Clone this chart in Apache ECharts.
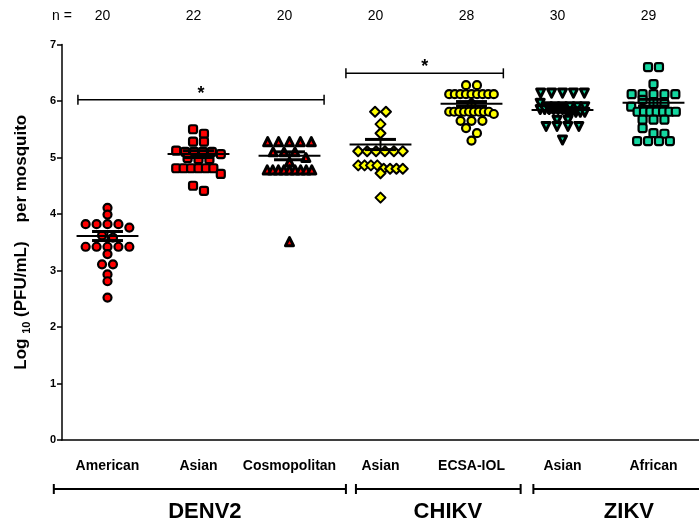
<!DOCTYPE html>
<html><head><meta charset="utf-8">
<script src="https://cdn.jsdelivr.net/npm/echarts@6/dist/echarts.min.js"></script>
<style>html,body{margin:0;padding:0;background:#fff}#c{width:699px;height:525px}</style>
</head><body><div id="c"></div>
<script>
const categories = ['American','Asian','Cosmopolitan','Asian','ECSA-IOL','Asian','African'];
const nLabels = ['20','22','20','20','28','30','29'];
const virusGroups = ['DENV2','CHIKV','ZIKV'];
const yTicks = [0,1,2,3,4,5,6,7];

const denvAmerican = [4.11,3.99,3.82,3.82,3.82,3.82,3.76,3.62,3.58,3.42,3.42,3.42,3.42,3.42,3.29,3.11,3.11,2.93,2.81,2.52];
const denvAsian = [5.50,5.42,5.28,5.28,5.12,5.10,5.10,5.10,5.10,5.06,4.99,4.97,4.97,4.81,4.81,4.81,4.81,4.81,4.81,4.71,4.50,4.41];
const denvCosmo = [5.28,5.28,5.28,5.28,5.28,5.10,5.10,5.10,5.00,4.92,4.78,4.78,4.78,4.78,4.78,4.78,4.78,4.78,4.78,3.51];
const chikvAsian = [5.81,5.81,5.59,5.43,5.11,5.11,5.11,5.11,5.11,5.11,4.86,4.86,4.86,4.86,4.80,4.80,4.80,4.80,4.72,4.29];
const chikvEcsa = [6.28,6.28,6.12,6.12,6.12,6.12,6.12,6.12,6.12,6.12,6.12,5.95,5.81,5.81,5.81,5.81,5.81,5.81,5.81,5.81,5.81,5.77,5.65,5.65,5.65,5.52,5.43,5.30];
const zikvAsian = [6.14,6.14,6.14,6.14,6.14,5.96,5.90,5.90,5.90,5.90,5.90,5.90,5.85,5.85,5.85,5.85,5.85,5.85,5.80,5.80,5.80,5.80,5.80,5.66,5.66,5.55,5.55,5.55,5.55,5.31];
const zikvAfrican = [6.60,6.60,6.30,6.12,6.12,6.12,6.12,6.12,6.02,5.97,5.95,5.90,5.81,5.81,5.81,5.81,5.81,5.81,5.81,5.67,5.67,5.67,5.52,5.43,5.42,5.29,5.29,5.29,5.29];

const means = [3.61,5.06,5.03,5.23,5.95,5.84,5.97];
const sems  = [0.08,0.06,0.07,0.09,0.04,0.04,0.06];

const sigLabels = ['*','*'];

// layout (axis units)
const sigSpans = [[-0.325,2.38,6.02],[2.62,4.35,6.49]];
const groupSpans = [[-0.59,2.62,1.07],[2.73,4.54,3.74],[4.68,6.6,5.73]];

const RED='#ff0000', YEL='#ffff00', TEAL='#14d7a0';

function swarm(vals, idx){
  const spacing=0.12, maxW=0.49, binH=0.1;
  const sorted=vals.slice().sort((a,b)=>b-a);
  const rows=[]; let cur=[];
  for(const v of sorted){ if(cur.length && cur[0]-v>binH){rows.push(cur);cur=[];} cur.push(v);}
  if(cur.length) rows.push(cur);
  const out=[];
  rows.forEach(r=>{const k=r.length; const sp=k>1?Math.min(spacing,maxW/(k-1)):0;
    r.forEach((v,j)=>out.push([idx+(j-(k-1)/2)*sp, v]));});
  return out;
}

const groups = [
  {vals:denvAmerican, symbol:'circle', size:8, color:RED, bw:2.2},
  {vals:denvAsian, symbol:'roundRect', size:8, color:RED, bw:2.2},
  {vals:denvCosmo, symbol:'triangle', size:8, color:RED, bw:3},
  {vals:chikvAsian, symbol:'diamond', size:10, color:YEL, bw:2},
  {vals:chikvEcsa, symbol:'circle', size:8, color:YEL, bw:2.2},
  {vals:zikvAsian, symbol:'triangle', size:8, color:TEAL, bw:3, rot:180},
  {vals:zikvAfrican, symbol:'roundRect', size:8, color:TEAL, bw:2.2}
];

const FONT='Liberation Sans, Arial, sans-serif';

const series = groups.map((g,i)=>({
  type:'scatter', xAxisIndex:1, yAxisIndex:0,
  data: swarm(g.vals,i),
  symbol:g.symbol, symbolSize:g.size, symbolRotate:g.rot||0,
  itemStyle:{color:g.color, borderColor:'#000', borderWidth:g.bw, borderJoin:'round', opacity:1},
  emphasis:{disabled:true}, silent:true, z:2
}));

series.push({
  type:'custom', xAxisIndex:1, yAxisIndex:0, z:10, silent:true,
  data: means.map((m,i)=>[i,m,sems[i]]),
  renderItem(params, api){
    const i=api.value(0), m=api.value(1), s=api.value(2);
    const L=api.coord([i-0.34,m]), R=api.coord([i+0.34,m]);
    const T=api.coord([i,m+s]), B=api.coord([i,m-s]);
    const tl=api.coord([i-0.17,m+s]), tr=api.coord([i+0.17,m+s]);
    const bl=api.coord([i-0.17,m-s]), br=api.coord([i+0.17,m-s]);
    const st={stroke:'#000', lineWidth:2};
    return {type:'group', children:[
      {type:'line', shape:{x1:L[0],y1:L[1],x2:R[0],y2:R[1]}, style:st},
      {type:'line', shape:{x1:T[0],y1:T[1],x2:B[0],y2:B[1]}, style:st},
      {type:'line', shape:{x1:tl[0],y1:tl[1],x2:tr[0],y2:tr[1]}, style:{stroke:'#000',lineWidth:3}},
      {type:'line', shape:{x1:bl[0],y1:bl[1],x2:br[0],y2:br[1]}, style:{stroke:'#000',lineWidth:3}}
    ]};
  }
});

// significance brackets
series.push({
  type:'custom', xAxisIndex:1, yAxisIndex:0, z:10, silent:true, clip:false,
  data: sigSpans.map((s,i)=>[s[0],s[1],s[2],i]),
  renderItem(params, api){
    const a=api.coord([api.value(0),api.value(2)]), b=api.coord([api.value(1),api.value(2)]);
    const st={stroke:'#000', lineWidth:1.5};
    return {type:'group', children:[
      {type:'line', shape:{x1:a[0],y1:a[1],x2:b[0],y2:b[1]}, style:st},
      {type:'line', shape:{x1:a[0],y1:a[1]-5,x2:a[0],y2:a[1]+5}, style:st},
      {type:'line', shape:{x1:b[0],y1:b[1]-5,x2:b[0],y2:b[1]+5}, style:st},
      {type:'text', style:{text:sigLabels[api.value(3)], x:(a[0]+b[0])/2, y:a[1]+3, align:'center', verticalAlign:'bottom', font:'bold 18px '+FONT, fill:'#000'}}
    ]};
  }
});

// virus group brackets below axis
series.push({
  type:'custom', xAxisIndex:1, yAxisIndex:0, z:10, silent:true, clip:false,
  data: groupSpans.map((s,i)=>[s[0],s[1],s[2],i]),
  renderItem(params, api){
    const a=api.coord([api.value(0),0]), b=api.coord([api.value(1),0]), c=api.coord([api.value(2),0]);
    const y=a[1]+49, ty=a[1]+72;
    const st={stroke:'#000', lineWidth:2};
    return {type:'group', children:[
      {type:'line', shape:{x1:a[0],y1:y,x2:b[0],y2:y}, style:st},
      {type:'line', shape:{x1:a[0],y1:y-5,x2:a[0],y2:y+5}, style:st},
      {type:'line', shape:{x1:b[0],y1:y-5,x2:b[0],y2:y+5}, style:st},
      {type:'text', style:{text:virusGroups[api.value(3)], x:c[0], y:ty, align:'center', verticalAlign:'middle', font:'bold 22px '+FONT, fill:'#000'}}
    ]};
  }
});

const chart = echarts.init(document.getElementById('c'), null, {renderer:'canvas'});
chart.setOption({
  animation:false,
  backgroundColor:'#fff',
  grid:{left:62, right:-2, top:44.5, bottom:85, containLabel:false},
  xAxis:[
    {type:'category', data:categories, position:'bottom', boundaryGap:true,
     axisLine:{onZero:false, lineStyle:{color:'#000', width:1.5}},
     axisTick:{alignWithLabel:true, length:5, lineStyle:{color:'#000', width:1.5}},
     axisLabel:{color:'#000', fontWeight:'bold', fontSize:14, fontFamily:FONT, margin:19, interval:0},
     splitLine:{show:false}},
    {type:'value', min:-0.5, max:6.5, show:false, axisLine:{onZero:false}},
    {type:'category', data:nLabels, position:'top', boundaryGap:true,
     axisLine:{show:false}, axisTick:{show:false},
     axisLabel:{color:'#000', fontSize:14, fontFamily:FONT, margin:21, interval:0, padding:[0,10,0,0]},
     splitLine:{show:false}}
  ],
  yAxis:[{type:'value', min:0, max:7, interval:1,
    axisLine:{show:true, onZero:false, lineStyle:{color:'#000', width:1.5}},
    axisTick:{show:true, length:5, lineStyle:{color:'#000', width:1.5}},
    axisLabel:{color:'#000', fontWeight:'bold', fontSize:11, fontFamily:FONT, margin:6,
      formatter:v=>yTicks.includes(v)?String(v):''},
    splitLine:{show:false},
    name:'{a|Log }{s|10}{a| (PFU/mL)    per mosquito}', nameLocation:'middle', nameGap:32, nameRotate:90,
    nameTextStyle:{rich:{
      a:{fontSize:17, fontWeight:'bold', fontFamily:FONT, color:'#000', lineHeight:20, verticalAlign:'bottom'},
      s:{fontSize:11, fontWeight:'bold', fontFamily:FONT, color:'#000', lineHeight:16, verticalAlign:'bottom', padding:[0,0,-2,0]}
    }}
  }],
  graphic:[{type:'text', left:52, top:9, style:{text:'n =', font:'14px '+FONT, fill:'#000'}}],
  series
});
</script></body></html>
